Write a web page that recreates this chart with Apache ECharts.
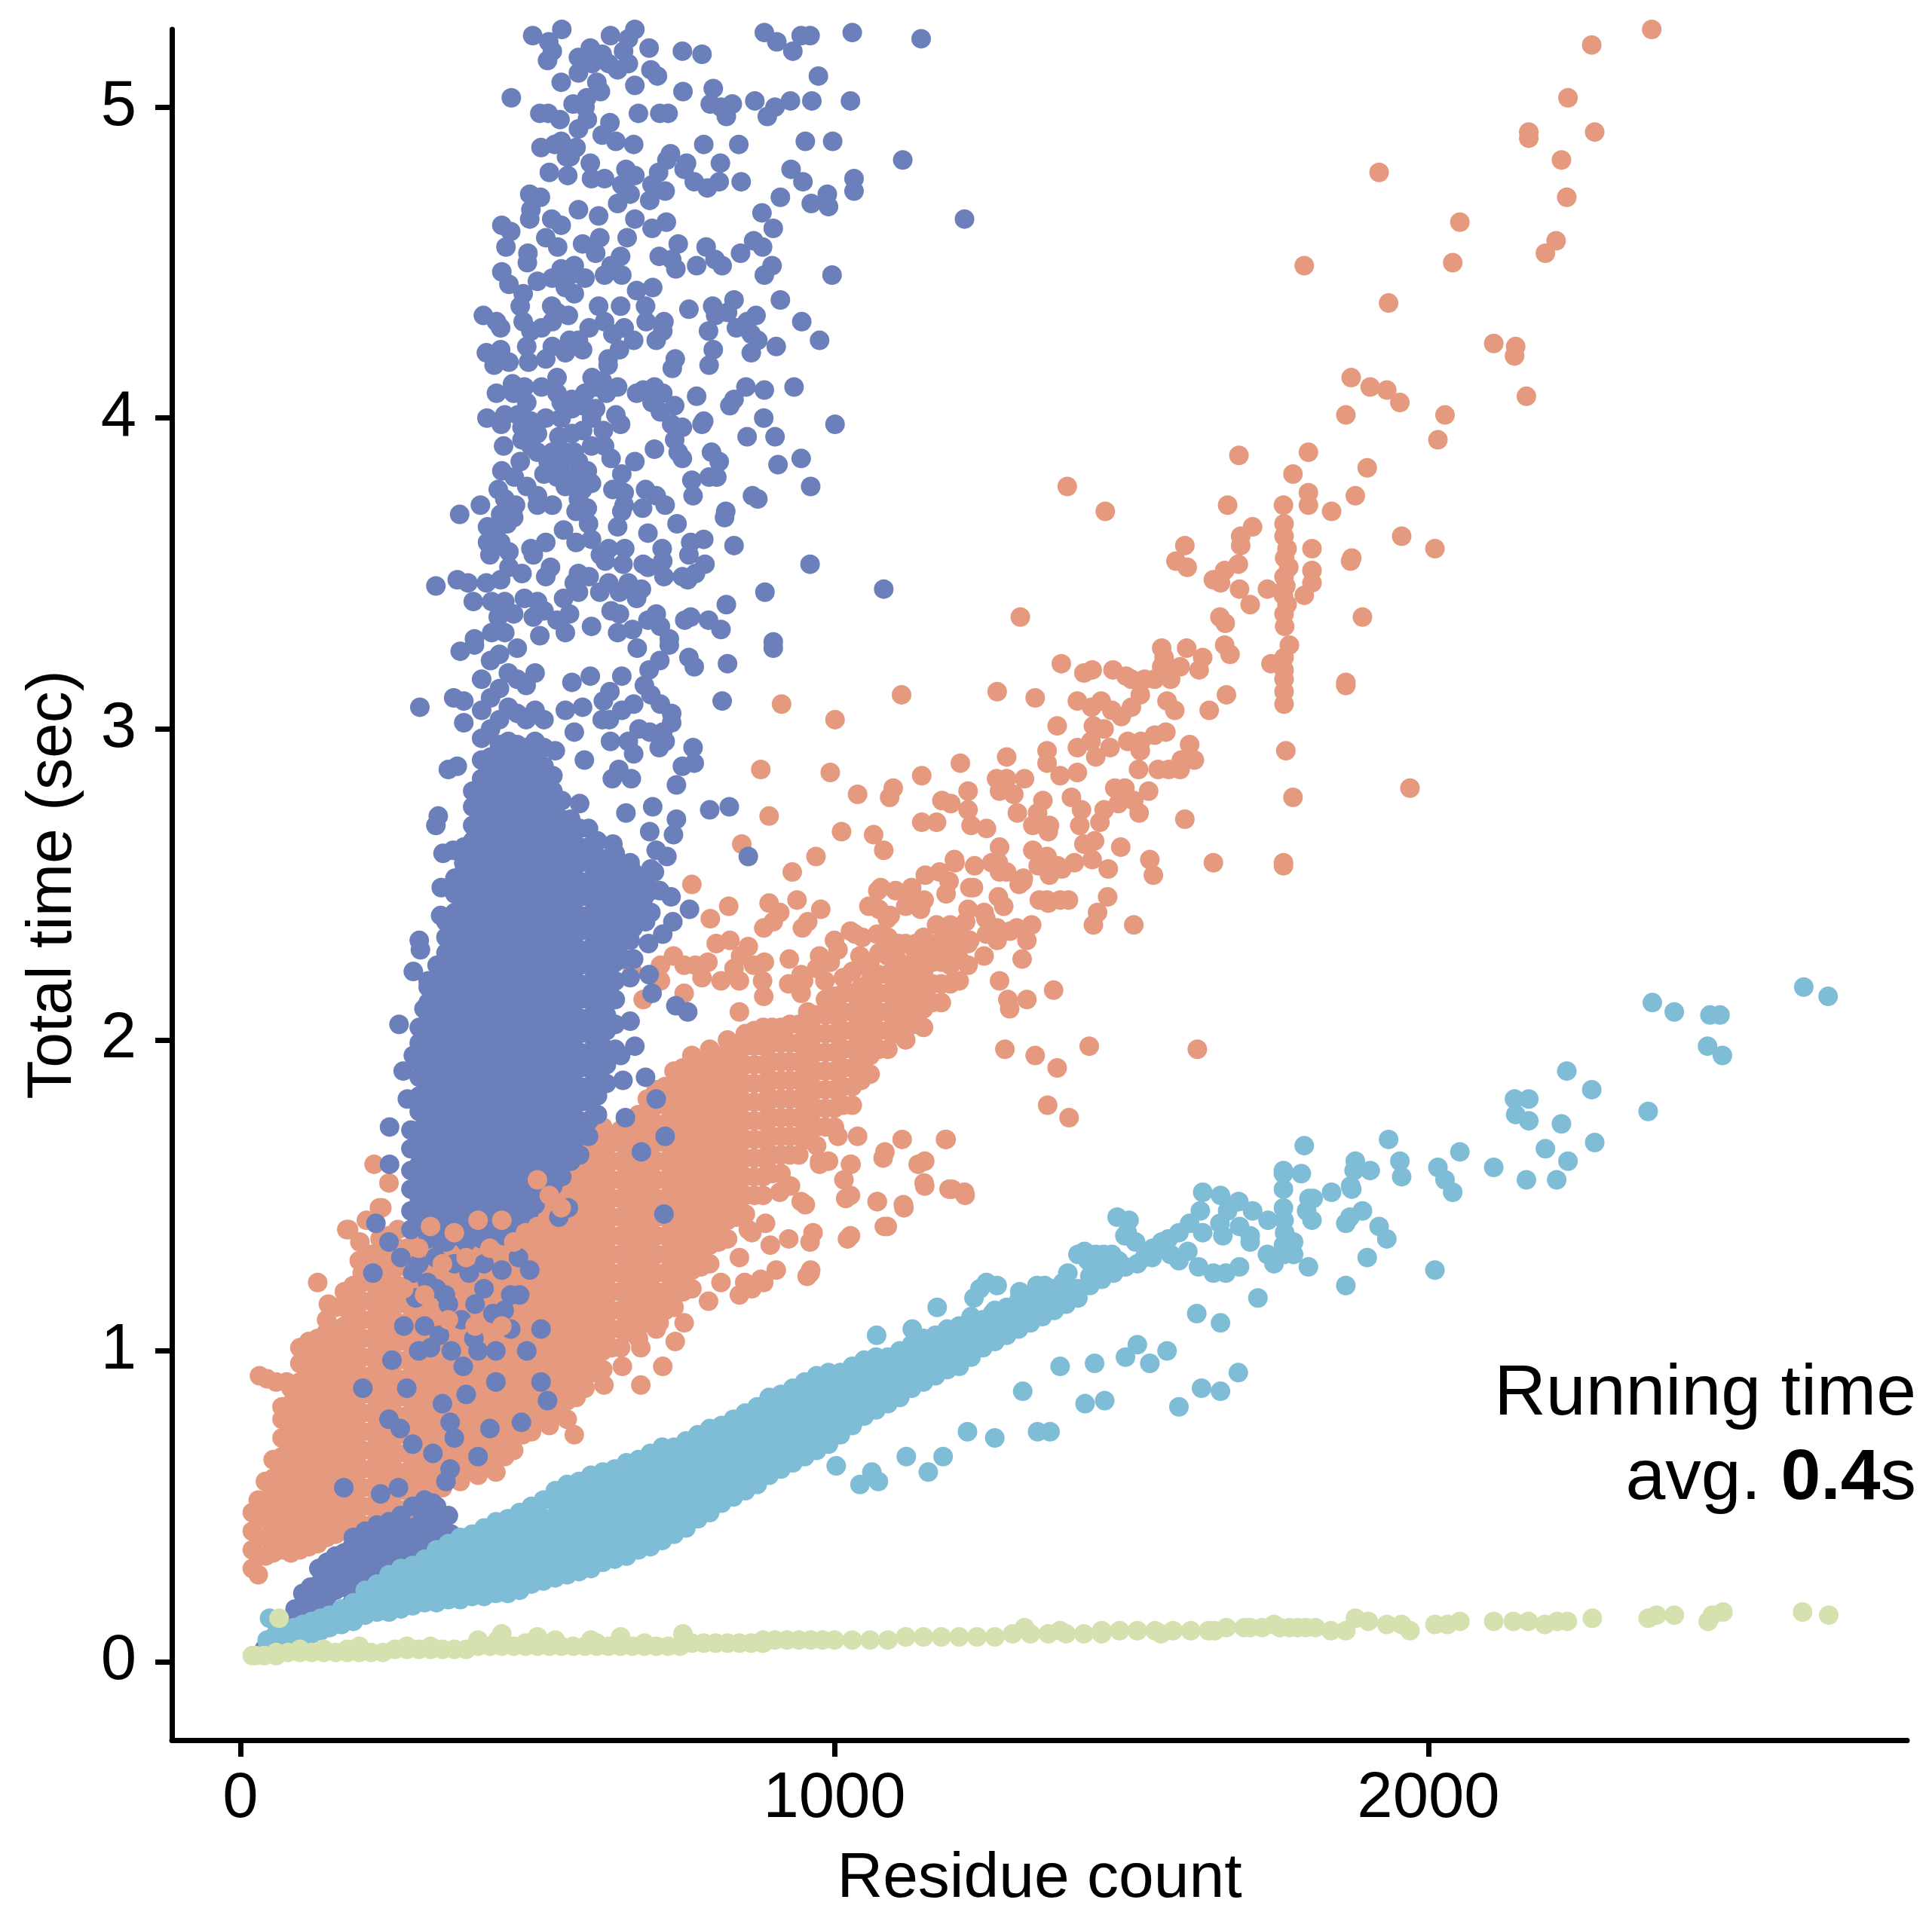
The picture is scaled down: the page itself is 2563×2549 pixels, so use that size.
<!DOCTYPE html>
<html><head><meta charset="utf-8">
<style>html,body{margin:0;padding:0;background:#fff}#c{width:2563px;height:2549px}</style>
<script src="https://cdn.jsdelivr.net/npm/echarts@6/dist/echarts.min.js"></script>
</head><body><div id="c"></div>
<script>
// x ticks, y ticks
const xTicks=[0,1000,2000];
const yTicks=[0,1,2,3,4,5];
// Scattered marks: flat x, y*100 pairs
const blueUpper=[1146,522,492,523,541,525,623,523,664,525,653,522,519,521,525,518,517,515,688,519,744,518,777,517,882,524,903,521,944,523,959,523,1030,524,930,518,973,510,569,516,589,519,609,517,569,511,592,514,645,518,653,514,635,512,620,514,691,512,702,510,664,507,540,508,600,508,606,505,583,503,560,501,456,503,745,505,796,506,791,501,828,501,818,497,809,500,866,502,900,500,887,497,926,502,962,502,1027,502,504,498,518,498,538,496,580,500,584,496,569,493,670,498,706,498,720,498,622,495,609,491,632,489,662,488,506,487,529,488,540,489,565,487,549,484,780,488,839,488,951,489,997,489,1115,483,1219,464,
520,479,555,484,551,478,589,482,613,477,591,477,649,480,664,478,642,475,656,472,689,470,693,475,715,473,704,479,724,485,718,483,751,482,747,480,764,476,786,474,806,476,843,476,808,482,927,480,947,476,1033,477,1033,473,909,471,988,472,961,469,990,468,878,466,897,461,864,457,879,455,842,453,895,449,882,446,996,446,909,438,945,431,975,425,902,423,932,410,882,409,851,410,831,406,824,404,881,400,1001,398,853,394,900,394,944,387,905,385,960,378,862,375,871,374,817,370,815,368,831,359,959,353,1083,345,883,344,818,340,
737,456,784,455,799,451,811,449,768,449,733,448,726,451,705,452,717,463,693,461,664,464,651,458,635,469,603,465,569,467,540,462,524,464,487,464,489,467,505,471,487,472,440,462,455,460,447,455,484,453,483,450,514,458,534,455,576,456,605,458,598,453,640,452,624,449,642,446,613,446,562,449,540,448,580,445,555,446,525,445,500,444,440,447,452,443,476,440,471,436,562,440,547,442,524,436,552,433,533,434,667,441,694,442,682,436,603,436,640,436,613,431,683,431,713,431,711,428,700,425,646,429,662,425,627,427,638,422,755,435,795,436,831,438,820,434,800,433,788,428,835,429,868,433,853,431,860,427,871,425,860,421,796,422,789,417,732,419,727,416,619,419,619,417,
409,433,431,431,438,429,476,431,489,428,507,429,525,431,587,429,569,425,554,425,525,423,482,423,576,422,547,421,414,421,438,422,427,417,452,418,485,418,514,419,533,413,592,413,609,412,635,410,616,408,598,410,458,411,478,410,431,408,507,410,533,408,558,406,580,408,540,405,576,404,598,403,558,403,591,400,667,408,678,409,697,410,711,408,693,405,707,402,731,404,768,407,460,408,482,405,467,401,445,401,415,400,439,398,489,399,514,400,540,400,474,397,500,395,474,393,489,391,536,394,558,395,576,396,611,396,632,401,640,398,726,398,744,397,777,398,780,399,
443,391,471,386,440,383,461,381,500,389,525,389,547,389,562,389,591,391,613,391,624,387,642,382,664,386,697,390,731,393,737,389,744,387,793,389,806,386,802,381,789,381,760,380,762,375,518,386,540,385,569,386,584,383,511,382,533,381,562,381,591,379,547,378,576,377,434,377,482,378,500,375,525,372,500,372,445,374,404,372,369,369,438,369,463,372,460,368,569,374,584,371,565,370,627,377,646,376,646,372,642,370,682,377,700,375,677,371,715,372,735,366,635,365,586,366,686,363,416,365,449,366,431,364,544,364,514,360,489,358,416,360,438,360,420,356,452,357,493,356,565,360,591,361,620,358,647,358,606,356,614,354,644,353,710,358,711,354,758,360,780,361,755,356,782,353,678,353,686,352,522,352,452,352,474,350,514,349,365,348,383,347,414,347,438,348,329,346,569,350,587,349,620,347,562,347,569,344,605,344,653,347,675,345,638,344,667,342,544,342,713,349,744,349,766,350,753,348,392,341,423,341,478,342,500,341,445,341,434,336,460,337,554,337,511,338,493,336,533,335,624,338,638,337,700,337,758,336,788,335,809,332,748,335,707,333,686,335,591,333,547,331,635,331,660,332,423,331,445,331,394,329,504,330,897,328,722,329];
const blueOutliers=[302,307,359,310,376,309,376,302,370,325,394,327,668,326,722,327,755,323,764,320,820,321,897,326,706,322,688,319,811,309,680,314,691,311,707,308,726,305,726,302,711,299,715,296,689,299,671,300,653,296,662,292,705,294,623,296,762,294,764,289,744,288,734,282,658,284,637,287,626,284,621,303,642,306,662,308,609,303,611,309,622,312,642,317,576,307,547,306,558,315,589,317,562,299,530,293,579,290,694,275,790,274,823,275,734,271,855,259,725,246,756,242,651,240,682,238,728,238,711,234,687,231,656,232,653,251,638,249,680,246,718,259,729,266,689,267,700,261,697,254,631,259,656,257,649,273,627,263,333,272,329,269,365,288,350,287,341,260,358,261,376,254,338,249,337,240,301,232,303,229,291,222,316,219,309,210,267,205,291,195,274,190,281,181,251,172,251,160,228,141,223,125,656,206,664,198,640,195,682,188,644,187,700,181,715,169,713,144,675,164,648,175,607,186,693,215,733,211,753,209,656,220,688,221,620,223,662,226,552,146,536,143,485,144,444,137,487,126,
206,88,280,88,380,86,269,75,353,77,324,67,400,66,353,62,236,54,174,56,266,56,346,58,324,51,320,101,393,104,255,97,455,107,444,113,506,107,506,90,517,84,473,77,295,117,350,115,410,120,470,118,360,72,430,90,290,70,340,83,375,95,300,100,250,78,330,120,275,108,420,75,
300,128,315,122,328,130,345,118,360,128,372,110,385,125,395,115,410,128,425,112,440,126,455,118,468,130,482,100,335,105,355,100,310,108,400,100,430,100,290,125,270,130,380,135,250,135,
250,45,270,47,290,50,310,52,330,50,350,47,355,41,210,42,230,44,190,40];
const orangeSparse=[2275,520,2376,525,2235,503,2169,492,2169,490,2280,492,2224,483,2233,471,1917,479,2053,463,2215,457,2197,453,1791,449,2041,450,1933,437,2110,424,2147,423,2145,420,2165,407,1870,413,1902,410,1930,409,1952,405,1861,401,2028,401,2016,393,1681,388,1798,389,1772,382,1897,384,1392,378,1456,370,1877,375,1837,370,1798,376,1798,372,1756,372,1662,372,1704,365,1684,362,1684,359,1590,359,1575,354,1594,352,1680,353,1657,351,1638,348,1650,347,1682,345,1700,340,1729,345,1804,358,1804,351,1804,347,1791,343,1871,355,1869,354,1955,362,2011,358,1889,336,1313,336,1649,336,1658,334,
1757,366,1757,362,1762,358,1758,355,1765,352,1757,349,1760,346,1756,343,1762,340,1757,337,1758,333,1382,321,1420,318,1434,319,1469,319,1491,317,1500,316,1522,316,1539,316,1551,326,1555,323,1551,320,1566,316,1582,320,1593,326,1620,323,1614,319,1657,327,1666,324,1735,321,1757,323,1757,319,1757,316,1757,312,1757,308,1766,327,1861,315,1861,314,1274,312,1338,310,1409,309,1433,307,1449,309,1467,306,1483,304,1500,307,1515,311,1560,309,1573,306,1631,306,1660,311,1375,301,1436,301,1454,300,1558,299,1539,298,1516,296,1494,296,1358,293,1409,294,1432,296,1440,291,1464,294,1515,293,1598,295,1606,290,1584,290,1563,287,1545,287,1582,287,1512,287,1760,293,1290,291,1358,289,1380,285,1409,286,1273,284,1290,284,1320,284,1278,280,1302,279,1969,281,1772,278,1529,280,1472,281,1489,281,1478,276,1504,277,1513,273,1454,274,1447,270,1399,278,1416,274,1413,269,1351,277,1342,273,1308,273,1334,269,1362,269,1360,267,1590,271,1256,268,1278,262,1334,261,1358,259,1343,256,1376,256,1362,253,1383,255,1404,257,1420,263,1438,264,1434,258,1461,255,1482,262,1531,258,1537,253,1638,257,1756,257,1756,256,1265,257,1278,254,1290,254,1318,252,1311,250,1276,246,1285,243,1345,245,1360,244,1380,245,1394,245,1460,246,1443,241,1436,237,1504,237,1252,241,1332,237,1307,236,1324,232,1274,236,1274,232,1256,234,1316,226,1252,227,1278,219,1292,213,1295,210,1324,213,1369,216,1287,197,1338,195,1375,191,1429,198,1611,197,1359,179,1395,175,
1113,311,911,308,1001,303,876,287,993,286,1212,289,1147,285,1039,279,1099,281,1093,278,1225,280,1181,277,1196,276,890,272,1012,267,1066,266,1083,261,1147,270,1172,270,1225,274,1230,269,844,263,969,259,929,254,1202,258,1153,253,1177,254,1236,256,1228,249,1188,247,611,253,760,250,822,243,791,239,890,244,937,245,908,241,977,242,955,238,897,238,881,236,946,236,1073,248,1103,248,1075,242,1094,240,1123,246,1145,242,1225,242,1221,238,1000,232,1035,234,1072,234,1043,227,1108,231,1137,231,1199,230,1228,232,1177,226,824,232,801,231,855,230,882,225,924,226,993,225,842,227,787,225,729,227,707,224,747,224,766,224,777,220,864,224,831,223,809,219,840,219,879,219,970,223,948,219,944,215,984,219,747,215,678,213,622,217,660,222,707,219,
225,160,250,154,179,139,234,146,212,142,201,135,200,129,130,122,182,139,238,146,32,92,45,91,60,90,78,90,148,115,
1114,168,1187,168,1082,162,1152,161,975,161,990,161,1028,160,1016,155,1152,153,1198,152,1220,150,1019,149,1072,148,1117,146,1084,140,1022,136,959,135,959,125,876,123,849,122,1039,169,1006,169,951,147,926,153,908,151,884,141,855,139,
562,73,508,79,487,83,519,85,612,89,643,95,674,89,711,95,732,103,674,101,705,109,747,109,788,116,840,118,861,120,881,122,902,126,954,124,960,126,892,134,861,138,923,136,944,148,964,138,1027,137,1027,150,1072,148,1089,140,1116,147,1151,154,1193,152,1219,151,1188,168,1141,160,1085,164,1027,160,975,160,840,130,809,122,778,130,747,122,695,116,757,138,788,138,
1047,233,1089,239,1120,243,1151,245,1193,251,1203,257,1130,249,1078,249,1058,243,1027,235,1006,229,975,227,944,221,923,218,881,214,840,209,1172,237,1213,231,1255,239,1296,235,1234,249,1276,257,1317,251,1358,245];
const orangeOver=[300,133,340,128,380,130,420,133,460,135,320,140,360,138,400,142,440,142,480,138,500,140,520,150,500,155,540,146,275,120,310,118,350,110,395,108,440,108];
const lightSparse=[2632,217,2673,214,2377,212,2414,209,2474,208,2491,208,2470,198,2495,195,2370,177,2233,190,2275,184,2145,181,2169,181,2147,176,2169,174,2224,173,2280,167,2197,165,2235,161,2216,155,2165,155,2110,159,2053,164,2016,159,2028,155,2041,151,1933,168,1952,161,1955,156,1791,166,1756,158,1756,157,1756,152,1786,157,1837,151,1877,161,1875,158,1902,158,1871,152,1869,153,1799,149,1806,149,1889,145,1868,143,1861,141,1917,140,1930,136,1897,130,2011,126,1804,142,1795,145,1798,127,1861,121,1756,146,1757,142,1758,138,1756,134,1757,131,1773,135,1773,131,1729,131,1740,128,1681,148,1704,145,1662,145,1649,141,1654,137,1682,140,1700,137,1620,138,1580,138,1496,142,1489,137,1507,135,1551,135,1536,133,1566,131,1595,132,1580,129,1522,130,1421,132,1453,131,1478,129,1427,129,1613,127,1638,125,1659,125,1682,127,1393,125,1256,122,1274,121,1354,121,
1003,63,1063,61,1074,58,1043,57,1121,66,1158,61,1183,66,1224,74,1270,72,1317,87,1342,74,1363,74,1380,95,1438,96,1422,83,1455,84,1490,98,1531,96,1510,102,1580,82,1560,100,1610,112,1650,109,1650,87,1680,93,1713,117,1618,88,
1071,105,1131,107,1173,114,1235,117,1245,120,1266,112,1312,119,1341,121,1365,120,1345,115,1385,122,1410,131,1430,130,1467,131,1476,143,1493,138,1535,130,1562,136,1598,141,1440,131,1616,145,1650,150,1620,151,1680,148,1700,135,1730,142,
49,14];
const greenSparse=[65,14,25,2,1766,11,1794,11,1836,10,1861,10,1877,14,1899,13,1930,12,1955,12,1969,10,2011,12,2032,12,2053,13,2110,13,2143,13,2168,13,2196,12,2217,13,2234,13,2276,14,2370,14,2384,15,2414,15,2471,13,2478,15,2496,16,2630,16,2674,15,440,9,433,7,500,8,530,7,590,7,640,8,745,9,1320,11,1380,10,1450,9,1550,9,1640,10,1700,11,1740,12];
// Dense clouds: first entry of each row is x, the others are y*100
const blueLow=[
[92,12,17],[105,11,17,22],[118,12,18,24],[132,12,19,25,30],[146,14,21,26,32],[160,16,23,29,34],[174,17,24,30,35],[188,19,26,32,37],[202,21,28,33,38],[216,24,30,36,40],[230,26,33,38,42],[244,29,36,41],[258,31,38,43],[272,33,39,45],[286,35,41,46],[300,37,44,48],[314,39,46],[328,41,47],[342,42,46],
[40,4],[60,6],[78,8]];
const blueCore=[
[287,139,145,152,158,165,171],
[301,140,144,149,155,160,166,171,177,182,188,193,199,204],
[316,136,141,147,152,157,163,168,174,179,185,190,196,201,206,212,217],
[331,136,142,147,153,158,164,169,175,180,185,191,196,202,207,213,218,224],
[346,135,140,146,151,157,162,168,173,179,184,190,195,201,206,212,217,222,228,233,238],
[361,137,142,148,153,159,164,170,175,181,186,192,197,203,208,214,219,225,230,236,241,247,252],
[376,136,141,147,152,158,163,169,174,180,185,191,196,202,207,213,218,224,229,235,240,246,251,257,262],
[391,137,143,148,154,159,165,170,176,181,187,192,198,203,209,214,220,225,231,236,242,247,253,258,264,269,275,280],
[406,136,141,147,152,158,163,169,174,180,185,191,196,202,207,213,218,224,229,235,240,246,251,257,262,268,273,279,284,290,297,306,316],
[421,137,143,148,154,159,165,170,176,181,187,192,198,203,209,214,220,225,231,236,242,247,253,258,264,269,275,280,286,291,300,310,322],
[436,141,146,152,157,163,168,174,179,185,190,196,201,207,212,218,223,229,234,240,245,251,256,262,267,273,278,284,289,295,303,313,324],
[451,142,148,153,159,164,170,175,181,186,192,197,203,208,214,219,225,230,236,241,247,252,258,263,269,274,280,285,291,296,307,318],
[466,141,146,152,157,163,168,174,179,185,190,196,201,207,212,218,223,229,234,240,245,251,256,262,267,273,278,284,289,295,305,316,326],
[481,146,151,157,162,168,173,179,184,190,195,201,206,212,217,223,228,234,239,245,250,256,261,267,272,278,283,289,294,303,314],
[496,147,153,158,164,169,175,180,186,191,197,202,208,213,219,224,230,235,241,246,252,257,263,268,274,279,285,290,296,306,318],
[511,151,156,162,167,173,178,184,189,195,200,206,211,217,222,228,233,239,244,250,255,261,266,272,277,283,288,294,303],
[526,153,159,164,170,175,181,186,192,197,203,208,214,219,225,230,236,241,247,252,258,263,269,274,280,285],
[541,156,161,167,172,178,183,189,194,200,205,211,216,222,227,233,238,244,249,255,260,266,271,277],
[556,161,166,172,177,183,188,194,199,205,210,216,221,227,232,238,243,249,254,260,265,271],
[571,163,169,174,180,185,191,196,202,207,213,218,224,229,235,240,246,251,257,262,268,276],
[586,169,174,180,185,191,196,202,207,213,218,224,229,235,240,246,251,257,262,268],
[601,176,182,187,193,198,204,209,215,220,226,231,237,242,248,253,259,264],
[616,186,192,197,203,208,214,219,225,230,236,241,247,252,258],
[631,197,205,213,219,225,231,237,243,249,254,260],
[646,226,232,238,244,250,256],[661,236,242,248,254],[676,239,245,252],[691,241,248,255],[706,248]];
const orangeCloud=[
[20,30,36,42,48],[30,28,34,40,46,52],[42,34,40,46,52,58],[55,35,41,47,53,59,65],
[70,36,42,48,54,60,66,72,78,82],[85,35,41,47,53,59,65,71,77,83,88],
[100,36,42,48,54,60,66,72,78,84,90,96,101],[115,37,43,49,55,61,67,73,79,85,91,97,103],
[130,38,44,50,56,62,68,74,80,86,92,98,104],[145,40,46,52,58,64,70,76,82,88,94,100,106,110],
[160,41,47,53,59,65,71,77,83,89,95,101,107,114],[175,42,48,54,60,66,72,78,84,90,96,102,108,114,119],
[190,43,49,55,61,67,73,79,85,91,97,103,109,115,121],[205,44,50,56,62,68,74,80,86,92,98,104,110,116,122,125],
[220,44,50,56,62,68,74,80,86,92,98,104,110,116,122,128,131],[235,46,52,58,64,70,76,82,88,94,100,106,112,118,124,130,136],
[250,47,53,59,65,71,77,83,89,95,101,107,113,119,125,131,137],[265,49,55,61,67,73,79,85,91,97,103,109,115,121,127,133,139],
[280,49,55,61,67,73,79,85,91,97,103,109,115,121,127,133],[295,53,59,65,71,77,83,89,95,101,107,113,119,125,131,137],
[310,52,58,64,70,76,82,88,94,100,106,112,118,124,130,136],[325,57,63,69,75,81,87,93,99,105,111,117,123,129,135],
[340,56,62,68,74,80,86,92,98,104,110,116,122,128,134],[355,60,66,72,78,84,90,96,102,108,114,120,126,132],
[370,58,64,70,76,82,88,94,100,106,112,118,124,130,136],[385,62,68,74,80,86,92,98,104,110,116,122,128,134],
[400,60,66,72,78,84,90,96,102,108,114,120,126,132,138],[415,63,69,75,81,87,93,99,105,111,117,123,129,135],
[430,61,67,73,79,85,91,97,103,109,115,121,127,133,139],[445,66,72,78,84,90,96,102,108,114,120,126,132,138],
[460,68,74,80,86,92,98,104,110,116,122,128,134,140,146],[475,73,79,85,91,97,103,109,115,121,127,133,139,145],
[490,74,80,86,92,98,104,110,116,122,128,134,140,146],[505,78,84,90,96,102,108,114,120,126,132,138,144,149],
[520,76,82,88,94,100,106,112,118,124,130,136,142,148,154],[535,80,86,92,98,104,110,116,122,128,134,140,146,152,158],
[550,78,84,90,96,102,108,114,120,126,132,138,144,150,156,162,166],[565,85,91,97,103,109,115,121,127,133,139,145,151,157,163,169],
[580,88,94,100,106,112,118,124,130,136,142,148,154,160,166,172],[595,93,99,105,111,117,123,129,135,141,147,153,159,165,171],
[610,94,100,106,112,118,124,130,136,142,148,154,160,166,172],[625,101,107,113,119,125,131,137,143,149,155,161,167],
[640,101,107,113,119,125,131,137,143,149,155,161,167,171],[655,106,112,118,124,130,136,142,148,154,160,166,172],
[670,104,110,116,122,128,134,140,146,152,158,164,170,176],[685,109,115,121,127,133,139,145,151,157,163,169,175,181],
[700,107,113,119,125,131,137,143,149,155,161,167,173,179,184],[715,113,119,125,131,137,143,149,155,161,167,173,179,185],
[730,114,120,126,132,138,144,150,156,162,168,174,180,186,190],[745,119,125,131,137,143,149,155,161,167,173,179,185,191],
[760,120,126,132,138,144,150,156,162,168,174,180,186,192,195],[775,127,133,139,145,151,157,163,169,175,181,187,193],
[790,128,134,140,146,152,158,164,170,176,182,188,194,197],[805,135,141,147,153,159,165,171,177,183,189,195],
[820,136,142,148,154,160,166,172,178,184,190,196,200],[835,143,149,155,161,167,173,179,185,191,197],
[850,144,150,156,162,168,174,180,186,192,198,202],[865,150,156,162,168,174,180,186,192,198,203],
[880,150,156,162,168,174,180,186,192,198,204],[895,157,163,169,175,181,187,193,199,204],
[910,157,163,169,175,181,187,193,199,204],[925,163,169,175,181,187,193,199,205],
[940,163,169,175,181,187,193,199,205],[955,168,174,180,186,192,198,204,209],
[970,166,172,178,184,190,196,202,208],[985,172,178,184,190,196,202,208,213],
[1000,172,178,184,190,196,202,208,214],[1015,179,185,191,197,203,209,215,220],
[1030,179,185,191,197,203,209,215,222],[1045,187,193,199,205,211,217,224],
[1060,189,195,201,207,213,219,225],[1075,197,203,209,215,221,228],
[1090,197,203,209,215,221,227,233],[1105,202,208,214,220,226,231],[1120,200,206,212,218,224,231],
[1135,205,211,217,223,229],[1150,204,210,216,222,228,233],[1165,212,218,225,230],[1180,212,218,225,232],[1195,218,224,231,237],[1210,219,226,234],[1225,224,231]];
const lightCloud=[
[45,4,7],[60,5,9],[75,6,10],[90,7,11],[105,8,12],[120,9,13],[135,10,14],[150,11,15],[170,12,17],[190,13,19],[210,15,19,23],[230,16,21,25],[250,16,20,25,28],[270,17,22,27,30],[290,18,22,27,31],[310,19,24,29,33],[330,19,24,28,33,36],[350,20,25,30,35,38],[370,20,24,29,34,40],[390,21,26,31,36,41],[410,21,25,30,35,40,43],[430,22,27,32,37,42,45],[450,22,27,32,37,42,46],[470,23,28,33,38,43,48],[490,25,30,35,40,45,50],[510,26,31,36,41,46,52],[530,27,32,37,42,47,52,55],[550,28,33,38,43,48,53,57],[570,29,34,39,44,49,54,58],[590,30,35,40,45,50,55,60],[610,32,37,42,47,52,57,61],[630,33,38,43,48,53,58,62],[650,34,39,44,49,54,59,64],[670,36,41,46,51,56,61,65],[690,37,42,47,52,57,62,67],[710,39,44,49,54,59,64,69],[730,41,46,51,56,61,66,69],[750,43,48,53,58,63,68,71],[770,46,51,56,61,66,71,73],[790,48,53,58,63,68,73,75],[810,51,56,61,66,71,76],[830,53,58,63,68,73,78],[850,55,60,65,70,75,80],[870,57,62,67,72,77,82],[890,60,65,70,75,80,85],[910,62,67,72,77,82,86],[930,64,69,74,79,84,88],[950,66,71,76,81,86,90],[970,68,73,78,83,88,92],[990,70,75,80,85,90,93],[1010,73,78,83,88,93],[1030,76,81,86,91,95],[1050,79,84,89,94,97],[1070,81,86,91,96,98],[1090,83,88,93,98],[1110,85,90,95,100],[1130,88,93,98,102],[1150,90,95,100,104],[1170,92,97,102,105],[1190,94,99,104,107],[1210,95,100,105,108],[1230,98,103,108,111],[1250,101,106,110],[1270,103,108,113],[1290,105,110,114],[1310,107,112,116],[1330,109,114,118],[1350,111,117],[1370,113,116],[1390,115,118],[1410,117,120],[1430,121,124],[1450,123,126],[1470,125],[1490,127],[1510,128]];
const greenCloud=[
[20,2],[40,2],[60,2,3],[80,3],[100,3,4],[120,3],[140,3,4],[160,3],[180,3,4],[200,3,5],[220,3],[240,3],[260,4],[280,4,5],[300,4],[320,4,5],[340,4],[360,4],[380,4],[400,5,7],[420,5],[440,5],[460,5],[480,5,6],[500,5],[520,5],[540,5],[560,5],[580,5],[600,5,6],[620,5],[640,5],[660,5],[680,5,6],[700,5],[720,5],[740,5],[760,6],[780,6],[800,6],[820,6],[840,6],[860,6],[880,6,7],[900,7],[920,7],[940,7],[960,7],[980,7],[1000,7],[1030,7],[1060,7],[1090,7],[1120,8],[1150,8],[1180,8],[1210,8],[1240,8],[1270,8],[1300,9],[1330,9],[1360,9],[1390,9],[1420,9],[1450,10],[1480,10],[1510,10],[1540,10],[1570,10],[1600,10],[1630,10],[1660,11],[1690,11],[1720,11],[1750,11],[1780,11],[1810,11]];

const fromPairs=f=>{const o=[];for(let i=0;i+1<f.length;i+=2)o.push([f[i],f[i+1]/100]);return o;};
const fromRows=r=>r.flatMap(([x,...ys])=>ys.map(y=>[x,y/100]));
const scat=(data,color)=>({type:'scatter',data,symbol:'circle',symbolSize:26,itemStyle:{color,opacity:1},silent:true,animation:false,progressive:0,large:false,emphasis:{disabled:true}});
const FONT='"Liberation Sans",Arial,sans-serif';
const axisBase={axisLine:{show:true,onZero:false,lineStyle:{color:'#000',width:7}},splitLine:{show:false},nameTextStyle:{color:'#000',fontFamily:FONT,fontSize:84}};
const chart=echarts.init(document.getElementById('c'),null,{renderer:'canvas',width:2563,height:2549});
chart.setOption({animation:false,backgroundColor:'#fff',
 grid:{left:228,right:33,top:39,bottom:240,containLabel:false,outerBoundsMode:'none'},
 xAxis:{type:'value',min:-115.5,max:2806,...axisBase,name:'Residue count',nameLocation:'middle',nameGap:143,
  axisTick:{show:true,length:22,lineStyle:{color:'#000',width:7},customValues:xTicks},
  axisLabel:{color:'#000',fontFamily:FONT,fontSize:85,margin:36,customValues:xTicks,formatter:v=>String(v)}},
 yAxis:{type:'value',min:-0.252,max:5.25,...axisBase,name:'Total time (sec)',nameLocation:'middle',nameGap:115,
  axisTick:{show:true,length:22,lineStyle:{color:'#000',width:7},customValues:yTicks},
  axisLabel:{color:'#000',fontFamily:FONT,fontSize:85,margin:47,customValues:yTicks,formatter:v=>String(v)}},
 series:[
  scat(fromRows(blueLow),'#6B7FBA'),
  scat([...fromRows(orangeCloud),...fromPairs(orangeSparse)],'#E59A7F'),
  scat([...fromRows(blueCore),...fromPairs(blueUpper),...fromPairs(blueOutliers)],'#6B7FBA'),
  scat(fromPairs(orangeOver),'#E59A7F'),
  scat([...fromRows(lightCloud),...fromPairs(lightSparse)],'#7FBDD6'),
  scat([...fromRows(greenCloud),...fromPairs(greenSparse)],'#D5E1AE')
 ],
 graphic:[{type:'text',silent:true,z:100,x:2542,y:1795,style:{text:'Running time\navg. {b|0.4}s',align:'right',verticalAlign:'top',fill:'#000',fontFamily:'Liberation Sans',fontSize:95,lineHeight:112,rich:{b:{fontWeight:'bold',fontFamily:'Liberation Sans',fontSize:95,fill:'#000',lineHeight:112}}}}]
});
</script></body></html>
